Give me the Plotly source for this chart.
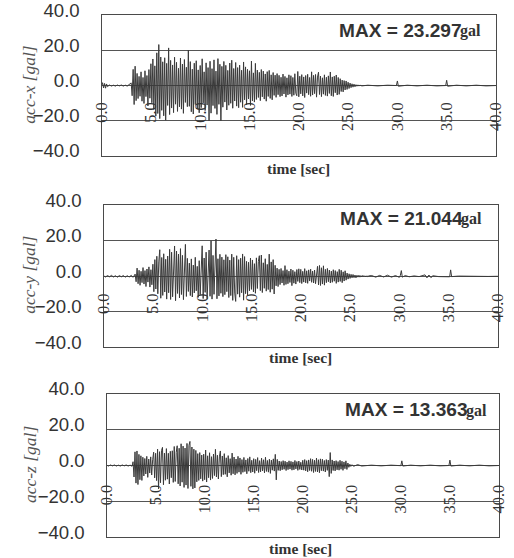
import plotly.graph_objects as go

# ---------------- data ----------------
tick_times = [0, 5, 10, 15, 20, 25, 30, 35, 40]
tick_text = ["0.0", "5.0", "10.0", "15.0", "20.0", "25.0", "30.0", "35.0", "40.0"]
y_ticks = [-40, -20, 0, 20, 40]

step = 0.1

# acc-x
x_pre_t = [0.0, 0.1, 0.2, 0.3, 0.4, 0.5, 0.6, 0.8, 1.0, 1.2, 1.4, 1.6, 1.8, 2.0, 2.2, 2.4, 2.6, 2.8]
x_pre_v = [0.0, 1.6, -1.4, 1.2, -1.5, 0.9, -0.6, 0.3, -0.3, 0.2, -0.3, 0.3, -0.2, 0.3, -0.3, 0.2, -0.3, 0.4]
x_start = 3.0
x_act = [
    1.5, -5.8, 9.2, -10.8, 11.0, -8.6, 6.9, -7.4, 5.2, -6.1,
    7.8, -8.9, 4.6, -10.2, 8.4, -6.3, 5.7, -11.6, 9.1, -7.2,
    12.4, -9.8, 15.1, -13.6, 11.2, -17.4, 18.6, -15.9, 23.3, -18.8,
    16.2, -14.1, 13.5, -17.2, 15.8, -19.7, 12.6, -11.3, 21.4, -16.5,
    14.3, -12.8, 11.7, -15.4, 16.1, -10.6, 13.2, -14.7, 9.8, -12.1,
    15.6, -13.4, 12.2, -15.8, 14.8, -9.6, 10.4, -12.0, 20.2, -11.8,
    13.6, -14.9, 9.3, -16.2, 12.7, -10.8, 14.1, -13.3, 8.9, -15.5,
    11.4, -12.6, 15.2, -9.9, 7.8, -14.2, 12.9, -11.1, 10.2, -20.1,
    13.8, -15.7, 9.6, -11.4, 14.6, -13.0, 8.2, -16.4, 15.3, -10.7,
    12.1, -20.0, 10.9, -12.3, 13.7, -9.4, 11.5, -13.9, 8.6, -11.2,
    12.8, -10.1, 14.4, -12.9, 9.7, -8.8, 13.1, -11.7, 10.2, -12.6,
    11.6, -9.5, 8.7, -12.4, 13.4, -8.1, 10.6, -10.9, 9.2, -7.6,
    8.4, -11.3, 13.9, -8.7, 7.2, -9.4, 12.6, -7.9, 8.8, -6.8,
    7.5, -8.6, 9.1, -6.4, 8.2, -7.7, 6.6, -8.9, 7.9, -6.2,
    8.6, -7.3, 6.1, -8.1, 7.4, -5.6, 5.9, -6.7, 6.8, -5.2,
    5.8, -6.3, 4.7, -5.9, 6.5, -4.8, 5.2, -6.6, 4.4, -5.3,
    6.1, -4.9, 5.6, -6.2, 4.6, -5.5, 6.7, -4.4, -5.8, 8.0,
    -6.4, 5.3, -4.7, 6.2, -5.9, 4.9, -6.8, 5.7, -4.3, 6.4,
    -5.2, 4.6, -6.1, 7.8, -5.4, 5.8, -4.6, 6.3, -6.6, 4.8,
    7.6, -5.1, 5.4, -6.3, 4.4, -4.9, 6.1, -5.6, 4.7, -6.0,
    5.5, -4.5, 7.7, -5.8, 4.9, -6.2, 5.3, -4.1, 6.0, -5.4,
    4.6, -5.0, 3.9, -3.4, 3.1, -3.6, 2.8, -2.5, 2.6, -2.2,
    1.9, -1.7, 1.4, -1.2, 1.0, -0.9, 0.8, -0.7, 0.5, -0.4,
    0.4, -0.3, 0.2,
]
x_post_t = [26.4, 27.0, 28.0, 29.0, 29.9, 30.0, 30.1, 31.0, 32.0, 33.0, 34.0, 34.9, 35.0, 35.1, 36.0, 37.0, 38.0, 39.0, 40.0]
x_post_v = [-0.2, 0.2, -0.2, 0.2, 0.0, 2.6, -0.4, 0.2, -0.2, 0.2, -0.2, 0.0, 3.0, -0.4, 0.2, -0.2, 0.2, -0.2, 0.0]

# acc-y
y_pre_t = [0.0, 0.2, 0.4, 0.6, 0.8, 1.0, 1.2, 1.4, 1.6, 1.8, 2.0, 2.2, 2.4, 2.6, 2.8, 3.0]
y_pre_v = [0.3, -0.4, 0.4, -0.3, 0.5, -0.4, 0.3, -0.5, 0.4, -0.3, 0.4, -0.5, 0.3, -0.4, 0.5, -0.6]
y_start = 3.2
y_act = [
    1.2, -3.1, 4.6, -4.2, 3.4, -5.1, 2.8, -3.6,
    4.9, -4.4, 3.2, -5.8, 4.1, -3.3, 5.3, -6.1, 3.7, -4.8,
    6.8, -8.7, 9.4, -7.2, 11.3, -9.9, 8.1, 15.0, -12.4, 10.6,
    -10.8, 12.7, -8.9, 9.6, -12.9, 11.4, -9.3, 15.2, -13.1, 13.6,
    -11.6, 10.4, 17.1, -13.8, 14.2, -9.7, 12.5, -12.2, 15.6, -10.3,
    11.8, -13.2, 9.2, 18.0, -11.4, 10.1, -8.6, 7.4, -10.9, 9.8,
    -11.7, 6.3, -9.4, 10.7, -8.2, 5.6, -11.9, 8.8, -10.4, 11.2,
    17.2, -12.6, 10.3, -9.1, 13.6, -12.8, 8.7, 14.8, -11.3, 20.0,
    -12.9, 11.8, -10.2, 13.5, 21.0, -12.7, 9.9, -11.1, 12.4, -9.6,
    10.8, -11.5, 9.3, -10.4, 12.2, -8.7, 11.0, -12.0, 9.1, -10.9,
    12.5, -13.6, 10.7, -9.5, -14.2, 11.6, -10.1, 9.4, -11.8, 10.2,
    -9.3, 12.6, -13.5, 11.1, -9.8, 8.4, -10.6, 7.9, -8.2, 10.3,
    -7.4, 9.2, -8.8, 7.1, -9.6, 10.4, -6.9, 8.3, 11.6, -8.1,
    12.0, -9.2, 7.6, -6.8, 9.9, -8.4, 6.7, -7.5, 12.5, -9.0,
    8.1, -7.3, 9.4, -10.0, 6.2, -5.4, 4.6, -5.8, 3.9, -4.7,
    4.4, -3.8, 3.2, -5.1, 6.0, -4.6, 3.7, -4.2, 2.9, -3.5,
    4.1, -5.3, 3.4, -3.9, 2.6, -4.4, 3.8, -2.9, 4.2, -3.6,
    3.9, -4.1, 2.8, -3.3, 4.3, -3.7, 3.1, -4.0, 3.6, -2.7,
    4.0, -3.4, 2.9, -3.8, 3.5, -4.2, 2.7, 5.6, -4.9, 6.1,
    -5.2, 4.8, -4.4, 5.9, -5.0, 3.9, -3.6, 4.4, -3.1, 3.5,
    -3.8, 2.9, -3.4, 3.7, -2.8, 3.2, -4.0, 2.6, -3.3, 3.9,
    -2.9, 3.4, -3.6, 2.5, -2.7, 3.1, -2.2, 1.8, -1.6, 1.4,
    -1.2, 1.1, -0.9, 1.0, -0.8, 0.7, -0.9, 0.6, -0.5, 0.6,
    -0.5, 0.4, -0.4, 0.5, -0.3, 0.3, -0.4, 0.3, -0.2, 0.2,
]
y_post_t = [27.2, 27.6, 28.0, 28.4, 28.8, 29.2, 29.6, 30.0, 30.1, 30.2, 30.3, 30.6, 31.0, 31.5, 32.0,
            32.6, 32.8, 33.0, 33.2, 33.4, 34.0, 35.0, 35.1, 35.2, 35.3, 36.0, 37.0, 38.0, 39.0, 40.0]
y_post_v = [0.4, -0.5, 0.5, -0.4, 0.6, -0.5, 0.4, -0.6, 0.5, 3.2, -0.5, 0.4, -0.3, 0.2, -0.2,
            0.8, -0.9, 0.7, -0.8, 0.3, -0.2, 0.0, -0.3, 3.6, -0.2, 0.1, -0.1, 0.1, -0.1, 0.0]

# acc-z
z_pre_t = [0.0, 0.2, 0.4, 0.6, 0.8, 1.0, 1.2, 1.4, 1.6, 1.8, 2.0, 2.2, 2.4, 2.6]
z_pre_v = [0.2, -0.3, 0.3, -0.2, 0.3, -0.3, 0.2, -0.3, 0.3, -0.2, 0.3, -0.3, 0.2, -0.4]
z_start = 2.7
z_act = [
    2.1, -6.4, 7.6,
    -9.8, 8.1, -10.6, 6.2, -7.9, 5.4, -8.3, 4.6, -5.8, 3.9,
    -4.7, 5.1, -6.6, 3.6, -4.2, 4.8, -5.3, 3.2, 7.4, -6.9,
    6.8, -8.4, 9.1, -13.0, 7.7, -9.6, 8.3, 10.1, -10.7, 6.9,
    -8.2, 9.4, -7.6, 6.8, -10.3, 7.9, -6.8, 8.2, -9.4, 10.6,
    -8.9, 7.3, 11.0, -10.2, 9.6, -11.4, 12.1, -9.3, 10.8, -12.2,
    9.7, -10.9, 12.3, -12.8, 11.2, 13.4, -11.6, 10.3, -13.0, 9.1,
    -12.5, 8.4, -9.1, 6.6, -8.3, 7.2, -7.4, 5.8, -8.7, 6.3,
    -7.9, 8.6, -9.2, 5.4, -6.8, 7.1, -8.1, 4.9, -7.2, 6.4,
    -5.6, 9.0, -6.4, 5.7, -7.5, 4.8, 8.1, -6.2, 5.3, -5.1,
    6.6, -4.9, 4.3, -6.3, 5.5, -4.1, 3.8, -5.4, 6.9, -4.6,
    4.7, -5.2, 3.6, -4.4, 5.1, -3.7, 4.2, -4.9, 3.3, -3.8,
    4.5, -3.4, 3.1, -4.6, 3.9, -3.2, 4.8, -4.0, 2.9, -3.6,
    3.8, -4.3, 3.4, -2.9, 4.4, -3.9, 2.7, -3.5, 4.1, -3.0,
    3.2, -4.1, 4.6, -3.3, 2.8, -3.7, 3.5, -4.4, 3.0, -2.6,
    3.7, -3.1, 6.2, -8.0, 3.4, -2.7, 2.5, -2.9, 2.2, -2.4,
    2.7, -2.1, 2.4, -2.8, 1.9, -2.3, 2.6, -2.0, 2.3, -2.6,
    2.0, -2.4, 2.8, -1.9, 2.2, -2.7, 2.5, -2.2, 1.8, -2.5,
    2.9, -2.6, 3.3, -3.0, 2.7, -3.5, 3.1, -2.8, 3.8, -3.2,
    3.4, -3.9, 2.9, -3.3, 4.1, -3.6, 3.2, -4.0, 3.7, -2.9,
    3.5, -3.1, 2.8, -3.6, 3.3, -2.7, 3.0, -6.2, 7.2, -4.4,
    3.1, -2.8, 2.5, -3.0, 2.7, -2.4, 2.2, -2.6, 2.9, -2.1,
    2.4, -2.7, 2.0, -1.8, 2.6, -2.2, 1.4, -1.0, 0.7, -0.5,
    0.4,
]
z_post_t = [25.2, 25.6, 26.0, 27.0, 28.0, 29.0, 30.0, 30.1, 30.2, 31.0, 32.0, 33.0, 34.0, 34.9, 35.0, 35.1, 36.0, 37.0, 38.0, 39.0, 40.0]
z_post_v = [-0.4, 0.5, -0.3, 0.2, -0.2, 0.2, -0.1, 2.6, -0.3, 0.2, -0.2, 0.2, -0.2, 0.0, 3.0, -0.3, 0.2, -0.2, 0.2, -0.2, 0.0]

panel_names = ["acc-x [gal]", "acc-y [gal]", "acc-z [gal]"]
max_labels = ["23.297", "21.044", "13.363"]


def series(pre_t, pre_v, start, act, post_t, post_v):
    t = list(pre_t) + [round(start + step * i, 2) for i in range(len(act))] + list(post_t)
    v = list(pre_v) + list(act) + list(post_v)
    return t, v


data = [
    series(x_pre_t, x_pre_v, x_start, x_act, x_post_t, x_post_v),
    series(y_pre_t, y_pre_v, y_start, y_act, y_post_t, y_post_v),
    series(z_pre_t, z_pre_v, z_start, z_act, z_post_t, z_post_v),
]

# ---------------- layout geometry ----------------
# Target positions are measured on the 514x558 reference picture.  The capture
# was found to show page pixels as img = 7.8 + 0.97 * page, so convert.
SX, SY, OX, OY = 0.970, 0.972, 7.8, 7.8
W, H = 522, 568


def px(x):
    return ((x - OX) / SX) / W


def py(y):
    return 1 - ((y - OY) / SY) / H


def fs(s):
    return round(s / SX, 1)


boxes = [  # left, right, top, bottom (reference pixels)
    (100, 497, 8, 150),
    (102, 499, 200, 343),
    (105, 500, 390, 535),
]
ticklabel_top = [101, 294, 487]
ytitle_pos = [(26, 78), (27, 270), (28, 462)]
xtitle_pos = [(298, 163), (300, 353), (300, 546)]
max_split = [(464, 23), (465, 213), (470, 406)]   # where "MAX = ..." ends and "gal" starts

LINE = "#4a4a4a"
TXT = "#333333"

fig = go.Figure()
layout = dict(
    width=W, height=H,
    margin=dict(l=0, r=0, t=0, b=0),
    paper_bgcolor="white", plot_bgcolor="white",
    showlegend=False,
    annotations=[],
)

for i, (t, v) in enumerate(data):
    n = i + 1
    xa = "x" if n == 1 else f"x{n}"
    ya = "y" if n == 1 else f"y{n}"
    xkey = "xaxis" if n == 1 else f"xaxis{n}"
    ykey = "yaxis" if n == 1 else f"yaxis{n}"
    okey = f"xaxis{n + 3}"
    oa = f"x{n + 3}"
    L, R, T, B = boxes[i]
    xdom = [px(L), px(R)]
    ydom = [py(B), min(1.0, py(T))]

    fig.add_trace(go.Scatter(x=t, y=v, xaxis=xa, yaxis=ya, mode="lines",
                             line=dict(color="#3a3a3a", width=1), hoverinfo="skip"))
    # invisible copy so the overlay axis carrying the rotated tick labels is drawn
    fig.add_trace(go.Scatter(x=t, y=v, xaxis=oa, yaxis=ya, mode="lines",
                             line=dict(color="rgba(0,0,0,0)", width=0), hoverinfo="skip"))

    layout[xkey] = dict(domain=xdom, anchor=ya, range=[0, 40], showgrid=False,
                        zeroline=False, showline=True, linecolor=LINE, linewidth=1.3,
                        mirror=True, ticks="", showticklabels=False)
    layout[ykey] = dict(domain=ydom, anchor=xa, range=[-40, 40], tickvals=y_ticks,
                        tickformat=".1f", showgrid=True, gridcolor="#555555", gridwidth=1,
                        zeroline=False, showline=True, linecolor=LINE, linewidth=1.3,
                        mirror=True, ticks="", ticklabelstandoff=17, ticklabelshift=-5,
                        ticklabeloverflow="allow",
                        tickfont=dict(family="Liberation Sans, Arial", size=fs(18), color=TXT))

    layout[okey] = dict(overlaying=xa, anchor="free",
                        position=py(ticklabel_top[i] - 9.5),
                        range=[0, 40], tickvals=tick_times, ticktext=tick_text,
                        tickangle=-90, ticks="", showline=False, showgrid=False,
                        zeroline=False, side="bottom", ticklabeloverflow="allow",
                        tickfont=dict(family="Liberation Serif, Times New Roman", size=fs(16), color=TXT))

    ax, ay = ytitle_pos[i]
    layout["annotations"].append(dict(
        x=px(ax), y=py(ay), xref="paper", yref="paper", text=f"<i>{panel_names[i]}</i>",
        textangle=-90, showarrow=False, xanchor="center", yanchor="middle",
        font=dict(family="Liberation Serif, Times New Roman", size=fs(17), color="#555555")))
    tx, ty = xtitle_pos[i]
    layout["annotations"].append(dict(
        x=px(tx), y=py(ty), xref="paper", yref="paper", text="<b>time [sec]</b>",
        showarrow=False, xanchor="center", yanchor="middle",
        font=dict(family="Liberation Serif, Times New Roman", size=fs(15), color=TXT)))
    mx, my = max_split[i]
    layout["annotations"].append(dict(
        x=px(mx), y=py(my), xref="paper", yref="paper",
        text=f"<b>MAX = {max_labels[i]}</b>", borderpad=0,
        showarrow=False, xanchor="right", yanchor="middle",
        font=dict(family="Liberation Sans, Arial", size=fs(18.5), color=TXT)))
    layout["annotations"].append(dict(
        x=px(mx - 4), y=py(my + 1), xref="paper", yref="paper",
        text="<b>gal</b>", borderpad=0,
        showarrow=False, xanchor="left", yanchor="middle",
        font=dict(family="Liberation Serif, Times New Roman", size=fs(15.5), color=TXT)))

fig.update_layout(**layout)
fig.write_html("out.html", config={"displayModeBar": False},
               post_script="document.body.style.margin='0px';document.body.style.overflow='hidden';")
